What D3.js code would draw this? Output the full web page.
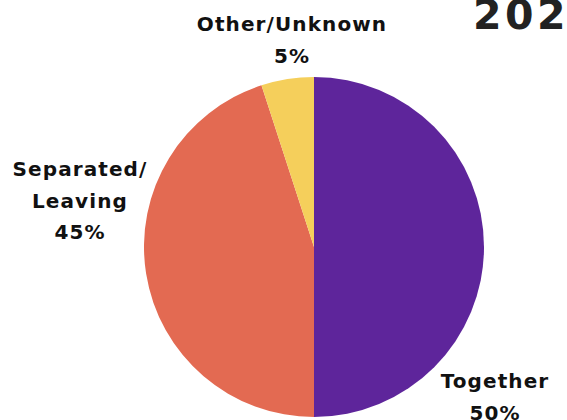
<!DOCTYPE html>
<html>
<head>
<meta charset="utf-8">
<script src="https://cdn.jsdelivr.net/npm/d3@7"></script>
<style>
  html, body { margin: 0; padding: 0; background: #fff; }
  svg { display: block; }
  text { font-family: "DejaVu Sans", Verdana, sans-serif; font-weight: bold; fill: #111; }
</style>
</head>
<body>
<svg id="chart" width="567" height="420"></svg>
<script>
const categories = ["Together", "Separated/Leaving", "Other/Unknown"];
const values = [50, 45, 5];
const labelLines = [["Together", "50%"], ["Separated/", "Leaving", "45%"], ["Other/Unknown", "5%"]];
const colors = ["#5E259B", "#E36A52", "#F5CF5B"];
const titleText = "202";

const svg = d3.select("#chart");
const cx = 314, cy = 247, r = 170;

const pie = d3.pie().sort(null).value(d => d)(values);
const arc = d3.arc().innerRadius(0).outerRadius(r);
const color = d3.scaleOrdinal().domain(categories).range(colors);

const g = svg.append("g").attr("transform", `translate(${cx},${cy})`);
g.selectAll("path").data(pie).join("path")
  .attr("d", arc)
  .attr("fill", (d, i) => color(categories[i]));

// Label anchors, in chart coordinates, for each slice
const labelPos = [[495, 388], [80, 176], [292, 31]];
const lineH = 31.5;
labelLines.forEach((lines, i) => {
  const t = svg.append("text")
    .attr("text-anchor", "middle")
    .attr("font-size", 20)
    .attr("letter-spacing", 1.1);
  lines.forEach((s, j) => {
    t.append("tspan").attr("x", labelPos[i][0]).attr("y", labelPos[i][1] + j * lineH).text(s);
  });
});

svg.append("text")
  .attr("x", 473).attr("y", 29)
  .attr("font-size", 41)
  .attr("letter-spacing", 3.5)
  .style("fill", "#222")
  .text(titleText);
</script>
</body>
</html>
